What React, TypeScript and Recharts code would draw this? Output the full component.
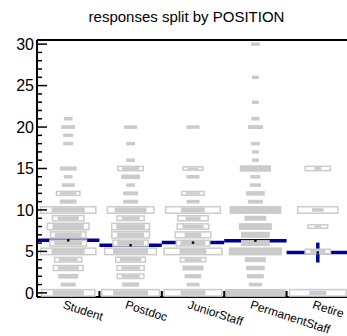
import { ComposedChart, Scatter, XAxis, YAxis, ErrorBar, ReferenceLine } from "recharts";

const categories = ["Student", "Postdoc", "JuniorStaff", "PermanentStaff", "Retire"];

// answer value, then box widths as % of the category band (outer outline / inner fill)
const studentValues = [0, 1, 2, 3, 4, 5, 6, 7, 8, 9, 10, 11, 12, 13, 14, 15, 18, 19, 20, 21];
const studentOuter = [88, 24, 32, 50, 46, 91, 61, 59, 69, 53, 91, 27, 40, 21, 14, 27, 16, 16, 22, 14];
const studentInner = [50, 24, 32, 34, 30, 53, 45, 43, 50, 34, 53, 27, 26, 21, 14, 27, 16, 16, 22, 14];

const postdocValues = [0, 1, 2, 3, 4, 5, 6, 7, 8, 9, 10, 11, 12, 13, 14, 15, 16, 18, 20];
const postdocOuter = [95, 27, 45, 46, 50, 85, 59, 63, 63, 46, 77, 24, 24, 14, 30, 43, 14, 14, 21];
const postdocInner = [56, 27, 29, 30, 34, 56, 43, 43, 46, 29, 51, 24, 24, 14, 30, 27, 14, 14, 21];

const juniorValues = [0, 1, 2, 3, 4, 5, 6, 7, 8, 9, 10, 11, 12, 14, 15, 20];
const juniorOuter = [95, 21, 27, 34, 43, 95, 56, 59, 53, 51, 90, 21, 38, 21, 34, 21];
const juniorInner = [40, 21, 27, 34, 27, 43, 40, 27, 34, 24, 38, 21, 22, 21, 18, 21];

const permanentValues = [0, 1, 2, 3, 4, 5, 6, 7, 8, 9, 10, 11, 12, 13, 14, 15, 16, 17, 18, 20, 21, 23, 26, 30];
const permanentOuter = [98, 21, 27, 30, 34, 85, 46, 46, 53, 35, 83, 24, 30, 18, 16, 50, 11, 11, 14, 24, 13, 11, 11, 14];
const permanentInner = permanentOuter;

const retiredValues = [0, 5, 8, 10, 15];
const retiredOuter = [93, 43, 34, 67, 43];
const retiredInner = [27, 24, 11, 19, 11];

const means = [6.34, 5.74, 6.06, 6.3, 4.86];
const meanErrors = [0.15, 0.2, 0.3, 0.15, 1.2];

const yTicks = Array.from({ length: 31 }, (_, i) => i);
const xTicks = [0, 0.5, 1, 1.5, 2, 2.5, 3, 3.5, 4, 4.5, 5];

const W = 349;
const H = 336;
const AXIS_W = 37;
const BAND = (W - AXIS_W) / categories.length;
const GRAY = "#cbcbcb";
const NAVY = "#00009a";
const FONT = "'Liberation Sans', Arial, sans-serif";

const groups = [
  [studentValues, studentOuter, studentInner],
  [postdocValues, postdocOuter, postdocInner],
  [juniorValues, juniorOuter, juniorInner],
  [permanentValues, permanentOuter, permanentInner],
  [retiredValues, retiredOuter, retiredInner],
];

const rows = groups.flatMap(([vals, outer, inner], i) =>
  vals.map((v, j) => ({ x: i + 0.5, y: v, outer: outer[j], inner: inner[j] }))
);

const meanRows = means.map((m, i) => ({ x: i + 0.5, y: m, half: 0.5, err: meanErrors[i] }));

function boxHeight(w: number) {
  return Math.max(3.5, Math.min(8, 1.5 + 0.16 * w));
}

function RowBox(props: any) {
  const { cx, cy, payload } = props;
  const wo = (payload.outer / 100) * BAND;
  const wi = (payload.inner / 100) * BAND;
  const ho = boxHeight(wo);
  if (wi >= wo - 2) {
    return <rect x={cx - wo / 2} y={cy - ho / 2} width={wo} height={ho} fill={GRAY} />;
  }
  const hi = Math.min(boxHeight(wi), ho - 3);
  return (
    <g>
      <rect
        x={cx - wo / 2 + 0.75}
        y={cy - ho / 2 + 0.75}
        width={wo - 1.5}
        height={ho - 1.5}
        fill="#fff"
        stroke={GRAY}
        strokeWidth={1.5}
      />
      <rect x={cx - wi / 2} y={cy - hi / 2} width={wi} height={hi} fill={GRAY} />
    </g>
  );
}

function MeanDot(props: any) {
  return <rect x={props.cx - 1.2} y={props.cy - 1.2} width={2.4} height={2.4} fill="#000" />;
}

function YTick(props: any) {
  const { x, y, payload } = props;
  const major = payload.value % 5 === 0;
  return (
    <g>
      <line x1={x} x2={x + (major ? 10 : 5)} y1={y} y2={y} stroke="#000" strokeWidth={1.5} />
      {major && (
        <text x={x - 3} y={y} dy="0.36em" textAnchor="end" fontSize={16} fontFamily={FONT} fill="#000">
          {payload.value}
        </text>
      )}
    </g>
  );
}

function XTick(props: any) {
  const { x, y, payload } = props;
  const v = payload.value;
  if (Number.isInteger(v)) {
    return <line x1={x} x2={x} y1={y} y2={y - 6} stroke="#000" strokeWidth={2} />;
  }
  const label = categories[Math.floor(v)];
  const tx = x - 6;
  const ty = y + 11;
  return (
    <text
      x={tx}
      y={ty}
      transform={`rotate(18 ${tx} ${ty})`}
      textAnchor="start"
      fontSize={12}
      fontFamily={FONT}
      fill="#000"
    >
      {label}
    </text>
  );
}

export default function App() {
  return (
    <div
      style={{
        position: "absolute",
        left: 0,
        top: 0,
        width: 347,
        height: 336,
        overflow: "hidden",
        background: "#fff",
      }}
    >
      <div
        style={{
          position: "absolute",
          left: 0,
          top: 8,
          width: 373,
          textAlign: "center",
          fontFamily: FONT,
          fontSize: 15,
          lineHeight: "18px",
          color: "#000",
        }}
      >
        responses split by POSITION
      </div>
      <ComposedChart width={W} height={H} margin={{ top: 40, right: 0, bottom: 0, left: 0 }}>
        <XAxis
          type="number"
          dataKey="x"
          domain={[0, 5]}
          allowDataOverflow
          ticks={xTicks}
          interval={0}
          tickSize={0}
          tickMargin={0}
          tickLine={false}
          tick={<XTick />}
          height={39}
          axisLine={{ stroke: "#000", strokeWidth: 2 }}
        />
        <YAxis
          type="number"
          dataKey="y"
          domain={[-0.5, 30.5]}
          allowDataOverflow
          ticks={yTicks}
          interval={0}
          tickSize={0}
          tickMargin={0}
          tickLine={false}
          tick={<YTick />}
          width={AXIS_W}
          axisLine={{ stroke: "#000", strokeWidth: 2 }}
        />
        <ReferenceLine y={30.5} stroke="#000" strokeWidth={2} />
        <Scatter data={rows} dataKey="y" shape={<RowBox />} isAnimationActive={false} />
        <Scatter data={meanRows} dataKey="y" shape={<MeanDot />} isAnimationActive={false}>
          <ErrorBar direction="x" dataKey="half" width={0} stroke={NAVY} strokeWidth={3.5} />
          <ErrorBar direction="y" dataKey="err" width={0} stroke={NAVY} strokeWidth={3.5} />
        </Scatter>
      </ComposedChart>
    </div>
  );
}
